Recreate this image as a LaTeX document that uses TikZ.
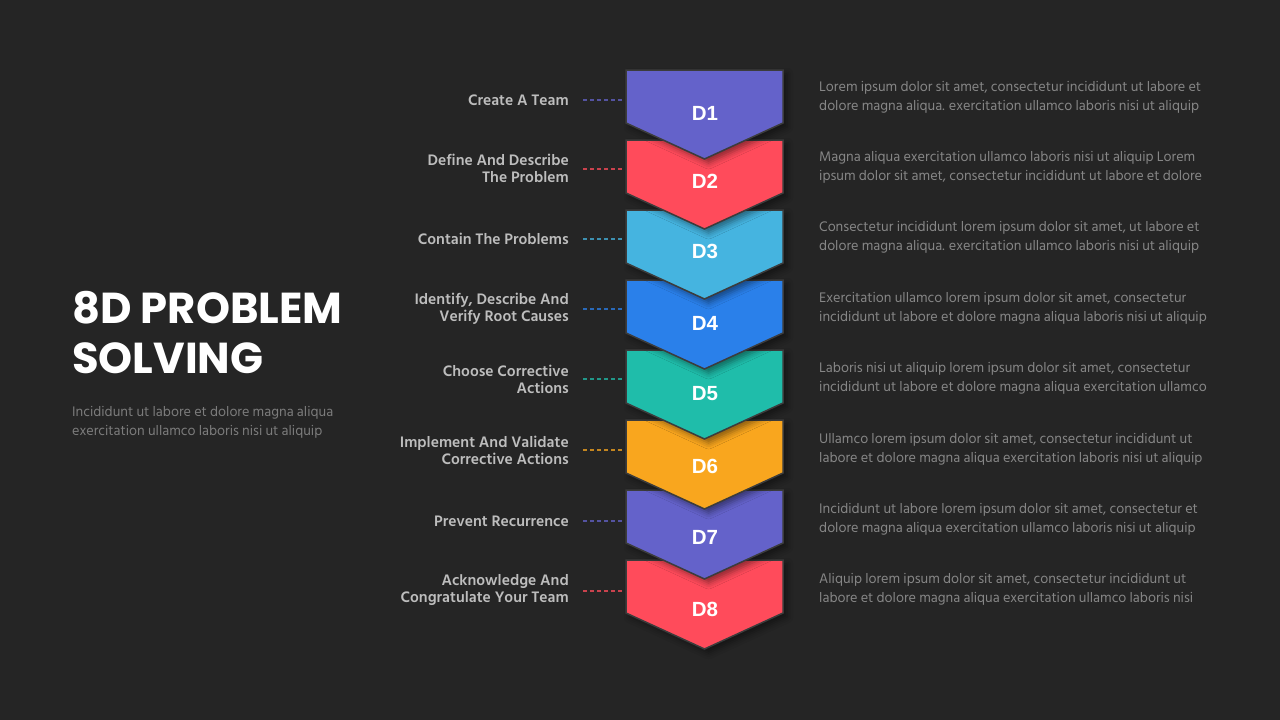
\documentclass[tikz,border=0pt]{standalone}
\usepackage{fontspec}
\setmainfont{Liberation Sans}
\newfontfamily\hind{Hind Siliguri}
\newfontfamily\pop{Poppins}
\usetikzlibrary{shadows.blur}
\definecolor{bg}{HTML}{252525}
\definecolor{edgec}{HTML}{3C3C3C}
\definecolor{cpurple}{HTML}{6462CA}
\definecolor{cred}{HTML}{FF4B5B}
\definecolor{clblue}{HTML}{45B4E0}
\definecolor{cblue}{HTML}{2A80EA}
\definecolor{cteal}{HTML}{1FBDAA}
\definecolor{corange}{HTML}{F9A61E}
\definecolor{labelc}{HTML}{BDBDBD}
\definecolor{bodyc}{HTML}{868686}
\definecolor{subc}{HTML}{7C7C7C}
\tikzset{
  chev/.style={draw=edgec, line width=1.5pt, line join=miter,
    blur shadow={shadow xshift=4pt, shadow yshift=-4pt, shadow blur radius=6pt, shadow opacity=45}},
  dlabel/.style={text=white, font=\bfseries\fontsize{20.5}{24}\selectfont, inner sep=0pt},
  steplabel/.style={anchor=east, align=right, text=labelc, inner sep=0pt,
    font=\hind\bfseries\fontsize{15.6}{17}\selectfont},
  bodytext/.style={anchor=west, align=left, text=bodyc, inner sep=0pt,
    font=\hind\fontsize{14.2}{19}\selectfont},
  dashlink/.style={dashed, dash pattern=on 4pt off 3pt, line width=1.1pt}
}
\begin{document}
\begin{tikzpicture}[x=1pt,y=-1pt]
\fill[bg] (0,0) rectangle (1280,720);
\useasboundingbox (0,0) rectangle (1280,720);

% title
\node[anchor=west, align=left, text=white, inner sep=0pt,
  font=\pop\bfseries\fontsize{43.3}{50}\selectfont] (title) at (72,333) {8D PROBLEM\\SOLVING};
\node[anchor=west, align=left, text=subc, inner sep=0pt,
  font=\hind\fontsize{14.2}{19}\selectfont] (sub) at (72,422.5)
  {Incididunt ut labore et dolore magna aliqua\\exercitation ullamco laboris nisi ut aliquip};

% chevrons, drawn from bottom to top so that upper tips overlap
\foreach \i/\top/\col/\ly in {8/560/cred/609,7/490/cpurple/537,6/420/corange/466,5/350/cteal/394,
                              4/280/cblue/323,3/210/clblue/251,2/140/cred/181,1/70/cpurple/113}{
  \draw[chev, fill=\col] (626,\top) -- (783,\top) -- (783,\top+53) -- (704.5,\top+89) -- (626,\top+53) -- cycle;
  \node[dlabel] (d\i) at (705,\ly) {D\i};
}

% left labels
\node[steplabel] (l1) at (569,100) {Create A Team};
\node[steplabel] (l2) at (569,168.5) {Define And Describe\\The Problem};
\node[steplabel] (l3) at (569,239) {Contain The Problems};
\node[steplabel] (l4) at (569,309) {Identify, Describe And\\Verify Root Causes};
\node[steplabel] (l5) at (569,379) {Choose Corrective\\Actions};
\node[steplabel] (l6) at (569,450) {Implement And Validate\\Corrective Actions};
\node[steplabel] (l7) at (569,521) {Prevent Recurrence};
\node[steplabel] (l8) at (569,590) {Acknowledge And\\Congratulate Your Team};

% dashed connectors
\foreach \i/\y/\col in {1/100/cpurple,2/169/cred,3/239/clblue,4/309/cblue,5/379/cteal,6/450/corange,7/521/cpurple,8/591/cred}{
  \coordinate (s\i) at (583,\y);
  \coordinate (c\i) at (624,\y);
  \draw[dashlink, draw=\col!75!bg] (s\i) -- (c\i);
}

% right texts
\node[bodytext] (t1) at (819,97.5) {Lorem ipsum dolor sit amet, consectetur incididunt ut labore et\\dolore magna aliqua. exercitation ullamco laboris nisi ut aliquip};
\node[bodytext] (t2) at (819,167.5) {Magna aliqua exercitation ullamco laboris nisi ut aliquip Lorem\\ipsum dolor sit amet, consectetur incididunt ut labore et dolore};
\node[bodytext] (t3) at (819,237.5) {Consectetur incididunt lorem ipsum dolor sit amet, ut labore et\\dolore magna aliqua. exercitation ullamco laboris nisi ut aliquip};
\node[bodytext] (t4) at (819,308.5) {Exercitation ullamco lorem ipsum dolor sit amet, consectetur\\incididunt ut labore et dolore magna aliqua laboris nisi ut aliquip};
\node[bodytext] (t5) at (819,378.5) {Laboris nisi ut aliquip lorem ipsum dolor sit amet, consectetur\\incididunt ut labore et dolore magna aliqua exercitation ullamco};
\node[bodytext] (t6) at (819,449.5) {Ullamco lorem ipsum dolor sit amet, consectetur incididunt ut\\labore et dolore magna aliqua exercitation laboris nisi ut aliquip};
\node[bodytext] (t7) at (819,519.5) {Incididunt ut labore lorem ipsum dolor sit amet, consectetur et\\dolore magna aliqua exercitation ullamco laboris nisi ut aliquip};
\node[bodytext] (t8) at (819,589.5) {Aliquip lorem ipsum dolor sit amet, consectetur incididunt ut\\labore et dolore magna aliqua exercitation ullamco laboris nisi};
\end{tikzpicture}
\end{document}
